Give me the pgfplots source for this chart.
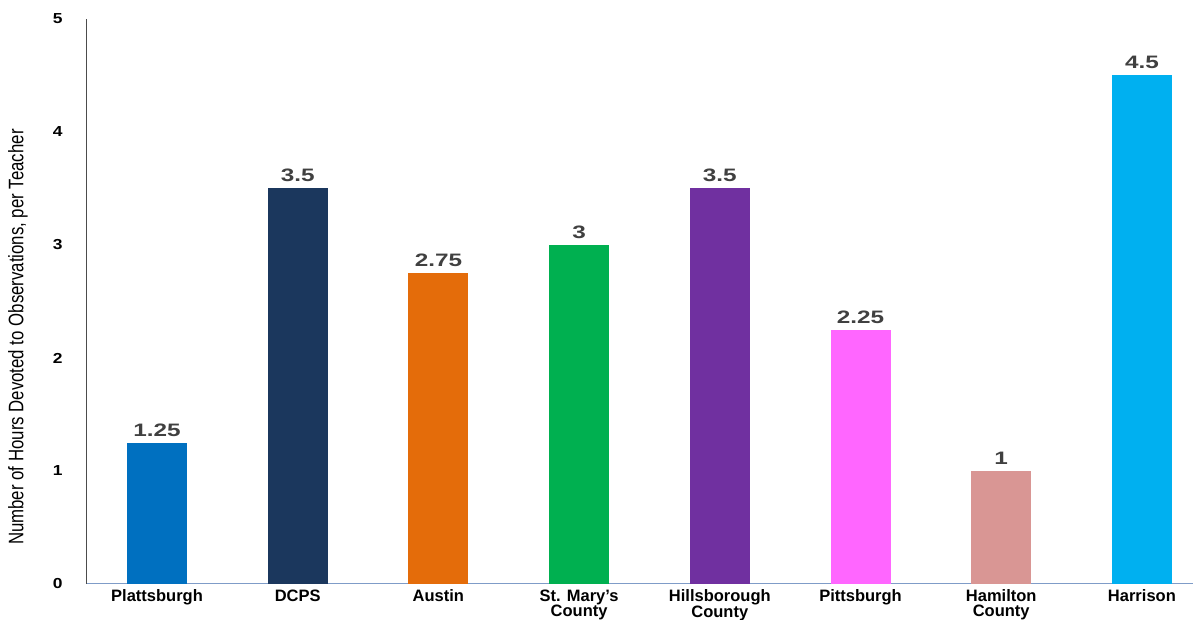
\documentclass[border=0pt]{standalone}
\usepackage{pgfplots}
\pgfplotsset{compat=1.18}
\usepackage{fontspec}
\setmainfont{Liberation Sans}
\definecolor{c1}{HTML}{0070C0}
\definecolor{c2}{HTML}{1B375D}
\definecolor{c3}{HTML}{E46C0A}
\definecolor{c4}{HTML}{00B050}
\definecolor{c5}{HTML}{7030A0}
\definecolor{c6}{HTML}{FF66FF}
\definecolor{c7}{HTML}{D99694}
\definecolor{c8}{HTML}{00B0F0}
\definecolor{lab}{HTML}{404040}
\definecolor{xax}{HTML}{7F9CC8}
\begin{document}
\begin{tikzpicture}
\begin{axis}[
  at={(0pt,0pt)}, anchor=south west,
  scale only axis,
  width=1107pt, height=565pt,
  xmin=-0.5046, xmax=7.363,
  ymin=0, ymax=5,
  ybar, bar width=60pt, bar shift=0pt,
  axis x line*=bottom, axis y line*=left,
  x axis line style={draw=xax, line width=1pt},
  y axis line style={draw=black!70, line width=0.8pt},
  xtick={0,...,7},
  xticklabels={Plattsburgh,DCPS,Austin,{St. Mary’s\\County},{Hillsborough\\County},Pittsburgh,{Hamilton\\County},Harrison},
  xticklabel style={font=\fontsize{16.5}{15}\selectfont\bfseries, align=center, anchor=north, yshift=-2pt},
  ytick={0,1,2,3,4,5},
  yticklabel={\scalebox{1.2}[1]{\pgfmathprintnumber{\tick}}},
  yticklabel style={font=\fontsize{14.5}{15}\selectfont\bfseries, xshift=-20pt},
  /pgf/number format/assume math mode=true,
  major tick length=0pt,
  nodes near coords={\scalebox{1.35}[1]{\pgfmathprintnumber{\pgfplotspointmeta}}},
  every node near coord/.append style={font=\fontsize{18}{18}\selectfont\bfseries, text=lab, yshift=3pt},
  ylabel={\scalebox{0.8}[1]{\fontsize{21}{21}\selectfont Number of Hours Devoted to Observations, per Teacher}},
  ylabel style={at={(axis description cs:-0.0614,0.437)}, anchor=center},
  clip=false,
]
\addplot[fill=c1, draw=none] coordinates {(0,1.25)};
\addplot[fill=c2, draw=none] coordinates {(1,3.5)};
\addplot[fill=c3, draw=none] coordinates {(2,2.75)};
\addplot[fill=c4, draw=none] coordinates {(3,3)};
\addplot[fill=c5, draw=none] coordinates {(4,3.5)};
\addplot[fill=c6, draw=none] coordinates {(5,2.25)};
\addplot[fill=c7, draw=none] coordinates {(6,1)};
\addplot[fill=c8, draw=none] coordinates {(7,4.5)};
\end{axis}
\pgfresetboundingbox
\useasboundingbox (-86pt,-36pt) rectangle (1107pt,584pt);
\end{tikzpicture}
\end{document}
